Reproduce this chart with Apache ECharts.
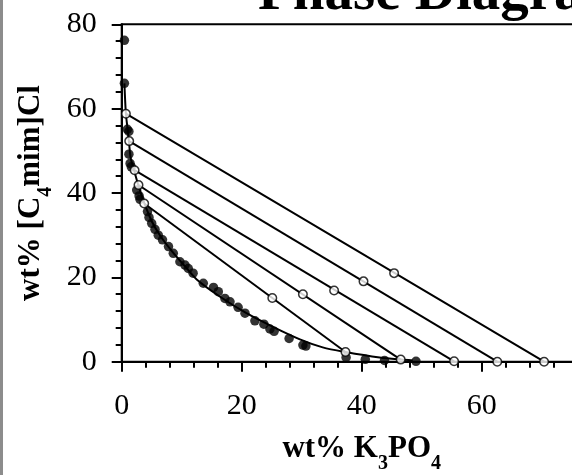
<!DOCTYPE html>
<html>
<head>
<meta charset="utf-8">
<script src="https://cdn.jsdelivr.net/npm/echarts@6/dist/echarts.min.js"></script>
<style>
  html, body { margin: 0; padding: 0; background: #fff; }
  #chart { width: 572px; height: 475px; }
</style>
</head>
<body>
<div id="chart"></div>
<script>
// Axis ticks (wt%)
const xTickLabels = ['0', '20', '40', '60', '80'];
const yTickLabels = ['0', '20', '40', '60', '80'];

// Binodal experimental points: [wt% K3PO4, wt% [C4mim]Cl]
const binodalPoints = [
  [0.45, 76.2], [0.45, 66.0], [0.94, 55.1], [1.2, 54.6], [1.2, 49.2],
  [1.4, 47.0], [1.6, 46.2], [2.5, 40.7], [2.9, 39.3], [3.05, 38.5],
  [4.3, 35.6], [4.55, 34.2], [5.0, 32.8], [5.55, 31.4], [6.1, 30.0],
  [6.8, 28.9], [7.8, 27.3], [8.6, 25.7], [9.7, 23.7], [10.55, 22.9],
  [11.1, 22.1], [11.9, 21.0], [13.6, 18.6], [15.3, 17.6], [16.1, 16.6],
  [17.2, 15.0], [18.05, 14.2], [19.4, 12.9], [20.55, 11.5], [22.2, 9.7],
  [23.7, 8.9], [24.7, 7.75], [25.4, 7.2], [27.9, 5.5], [30.2, 3.95],
  [30.7, 3.7], [37.4, 1.0], [40.6, 0.57], [43.8, 0.3], [49.05, 0.1]
];

// Fitted binodal curve
const binodalFit = [
  [0.45, 66.0], [0.7, 58.8], [1.0, 55.0], [1.25, 51.5], [1.5, 48.3],
  [2.1, 45.2], [2.8, 41.7], [3.8, 37.5], [5.0, 33.3], [6.5, 29.7],
  [8.5, 26.0], [10.5, 22.7], [12.5, 19.5], [16.4, 15.4], [20.8, 11.5],
  [25.3, 8.2], [29.7, 5.3], [33.5, 3.4], [37.3, 2.3], [43.0, 1.0],
  [46.5, 0.5], [48.5, 0.3]
];

// Tie lines: top phase, mixture point, bottom phase
const tieTop = [[0.7, 58.8], [1.25, 52.3], [2.15, 45.4], [2.8, 41.9], [3.75, 37.5]];
const tieMid = [[45.4, 21.0], [40.3, 19.05], [35.4, 16.9], [30.2, 16.0], [25.1, 15.1]];
const tieBottom = [[70.4, 0.0], [62.6, 0.0], [55.4, 0.1], [46.5, 0.5], [37.3, 2.3]];

const serif = 'Liberation Serif';
const axisMin = 0;
const xMax = Number(xTickLabels[xTickLabels.length - 1]);
const yMax = Number(yTickLabels[yTickLabels.length - 1]);
const step = Number(xTickLabels[1]) - Number(xTickLabels[0]);

const subStyle = { fontFamily: serif, fontWeight: 'bold', fontSize: 20, color: '#000', padding: [29, 0, 0, 0] };
const nameStyle = { fontFamily: serif, fontWeight: 'bold', fontSize: 31, color: '#000', rich: { s: subStyle } };

function valueAxis(labels, max, name, labelMargin) {
  return {
    type: 'value',
    min: axisMin,
    max: max,
    interval: step,
    axisLine: { show: true, lineStyle: { color: '#000', width: 2 } },
    axisTick: { show: true, length: 10, lineStyle: { color: '#000', width: 2 } },
    minorTick: { show: true, splitNumber: 5, length: 6, lineStyle: { color: '#000', width: 2 } },
    splitLine: { show: false },
    minorSplitLine: { show: false },
    axisLabel: {
      margin: labelMargin,
      fontFamily: serif,
      fontSize: 30,
      color: '#000',
      formatter: v => labels[Math.round(v / step)] ?? ''
    },
    name: name,
    nameLocation: 'middle',
    nameGap: 63,
    nameTextStyle: nameStyle
  };
}

const tieSeries = tieTop.map((p, i) => ({
  type: 'line',
  data: [p, tieBottom[i]],
  symbol: 'none',
  lineStyle: { color: '#000', width: 2 },
  z: 3,
  silent: true
}));

const chart = echarts.init(document.getElementById('chart'), null, { renderer: 'canvas' });
chart.setOption({
  animation: false,
  backgroundColor: '#fff',
  title: {
    text: 'Phase Diagram',
    left: 258,
    top: -34,
    padding: 0,
    textStyle: { fontFamily: serif, fontWeight: 'bold', fontSize: 57, color: '#000' }
  },
  graphic: [{
    type: 'rect',
    left: 0,
    top: 0,
    shape: { width: 3, height: 475 },
    style: { fill: '#8c8c8c' },
    silent: true
  }],
  grid: {
    left: 121.7,
    top: 24.3,
    right: -29.7,
    bottom: 113.3,
    containLabel: false,
    outerBoundsMode: 'none',
    show: true,
    borderColor: '#000',
    borderWidth: 2,
    backgroundColor: 'transparent'
  },
  xAxis: valueAxis(xTickLabels, xMax, 'wt% K{s|3}PO{s|4}', 29),
  yAxis: valueAxis(yTickLabels, yMax, 'wt% [C{s|4}mim]Cl', 25),
  series: [
    {
      type: 'line',
      data: binodalFit,
      smooth: 0.3,
      symbol: 'none',
      lineStyle: { color: '#000', width: 2 },
      z: 2,
      silent: true
    },
    ...tieSeries,
    {
      type: 'scatter',
      data: binodalPoints,
      symbol: 'circle',
      symbolSize: 9.5,
      itemStyle: { color: '#000' },
      z: 4,
      silent: true
    },
    {
      type: 'scatter',
      data: tieTop.concat(tieMid, tieBottom),
      symbol: 'circle',
      symbolSize: 8.5,
      itemStyle: { color: '#fff', borderColor: '#000', borderWidth: 1.5 },
      z: 5,
      silent: true
    }
  ]
});
</script>
</body>
</html>
